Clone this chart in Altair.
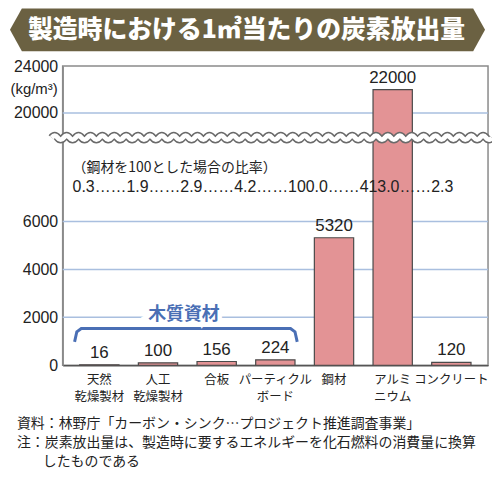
import altair as alt
import pandas as pd

# --- data ------------------------------------------------------------------
categories = ["天然\n乾燥製材", "人工\n乾燥製材", "合板", "パーティクル\nボード",
              "鋼材", "アルミ\nニウム", "コンクリート"]
emissions = [16, 100, 156, 224, 5320, 22000, 120]
ratios = ["0.3", "1.9", "2.9", "4.2", "100.0", "413.0", "2.3"]
tick_values = [0, 2000, 4000, 6000, 20000, 24000]
grid_values = [2000, 4000, 6000, 20000]

title_text = "製造時における1㎥当たりの炭素放出量"
unit_text = "(kg/m³)"
ratio_note = "（鋼材を100とした場合の比率）"
group_label = "木質資材"
notes = [
    "資料：林野庁「カーボン・シンク…プロジェクト推進調査事業」",
    "注：炭素放出量は、製造時に要するエネルギーを化石燃料の消費量に換算",
    "したものである",
]

# --- styling -----------------------------------------------------------------
W, H = 428, 301
BREAK_PX = 72
BAR = "#e39395"
BAR_EDGE = "#4a4a4a"
GRID = "#a9bfdf"
FRAME = "#8a8a8a"
BLUE = "#4a6fb5"
BANNER = "#6b6142"
INK = "#222222"
JP = "Noto Sans CJK JP"
LATIN = "Liberation Sans"

frame = pd.DataFrame({"category": categories, "value": emissions})
one = pd.DataFrame({"k": [0]})

# broken axis: 0-9500 in the lower part, 17900-24000 squeezed on top
y_scale = alt.Scale(domain=[0, 9500, 17900, 24000],
                    range=[H, BREAK_PX, BREAK_PX, 0], nice=False, zero=False)
x_enc = alt.X(
    "category:N",
    sort=categories,
    scale=alt.Scale(paddingInner=0.33, paddingOuter=0.29),
    axis=alt.Axis(
        title=None, labelAngle=0, ticks=False,
        labelExpr="split(datum.label, '\\n')",
        labelFont=JP, labelFontSize=12.5, labelLineHeight=18,
        labelColor=INK, labelPadding=8,
        domainColor="#555555", domainWidth=1.5,
    ),
)


def shape_path(points):
    return "M" + " L".join(f"{x},{y}" for x, y in points)


def wave_path(periods=37, amp=0.009):
    step = 1.0 / periods
    parts = [f"M-1,0 Q{-1 + step / 2:.4f},{-2 * amp:.4f} {-1 + step:.4f},0"]
    for i in range(2, periods * 2 + 1):
        parts.append(f"T{-1 + i * step:.4f},0")
    return " ".join(parts)


grid = (
    alt.Chart(pd.DataFrame({"g": grid_values}))
    .mark_rule(color=GRID, strokeWidth=1.5)
    .encode(y=alt.Y("g:Q", scale=y_scale))
)

bars = (
    alt.Chart(frame)
    .mark_bar(color=BAR, stroke=BAR_EDGE, strokeWidth=1.2)
    .encode(
        x=x_enc,
        y=alt.Y(
            "value:Q", scale=y_scale,
            axis=alt.Axis(
                title=None, values=tick_values, format="d", grid=False,
                ticks=False, labelFont=LATIN, labelFontSize=16,
                labelColor=INK, labelPadding=5, labelOverlap=False,
                domainColor=FRAME, domainWidth=1.5,
            ),
        ),
    )
)

value_labels = (
    alt.Chart(frame)
    .mark_text(baseline="bottom", dy=-3, font=LATIN, fontSize=17, color=INK)
    .encode(x=alt.X("category:N", sort=categories), y=alt.Y("value:Q", scale=y_scale),
            text=alt.Text("value:Q", format="d"))
)

wave_shape = wave_path()
wave_edge = (
    alt.Chart(one)
    .mark_point(shape=wave_shape, size=443 ** 2, filled=False, stroke="#6a6a6a",
                strokeWidth=8, opacity=1)
    .encode(x=alt.value(210.5), y=alt.value(BREAK_PX))
)
wave_fill = (
    alt.Chart(one)
    .mark_point(shape=wave_shape, size=443 ** 2, filled=False, stroke="white",
                strokeWidth=5, opacity=1)
    .encode(x=alt.value(210.5), y=alt.value(BREAK_PX))
)

ratio_head = (
    alt.Chart(one)
    .mark_text(align="left", font=JP, fontSize=14, color=INK)
    .encode(x=alt.value(10), y=alt.value(103), text=alt.value(ratio_note))
)
ratio_line = (
    alt.Chart(one)
    .mark_text(align="left", font=LATIN, fontSize=16, color=INK)
    .encode(x=alt.value(10), y=alt.value(122), text=alt.value("……".join(ratios)))
)

unit = (
    alt.Chart(one)
    .mark_text(align="right", font=LATIN, fontSize=15, color=INK)
    .encode(x=alt.value(-5), y=alt.value(23), text=alt.value(unit_text))
)

bracket = (
    alt.Chart(one)
    .mark_point(
        shape=shape_path([(-1, 0.12), (-0.98, 0.03), (-0.94, 0), (0.94, 0),
                          (0.98, 0.03), (1, 0.12)]),
        size=224 ** 2, filled=False, stroke=BLUE, strokeWidth=3, opacity=1,
    )
    .encode(x=alt.value(124), y=alt.value(264))
)
group_halo = (
    alt.Chart(one)
    .mark_text(font=JP, fontSize=18, fontWeight="bold", color="white",
               stroke="white", strokeWidth=9)
    .encode(x=alt.value(122), y=alt.value(250), text=alt.value(group_label))
)
group_text = (
    alt.Chart(one)
    .mark_text(font=JP, fontSize=18, fontWeight="bold", color=BLUE)
    .encode(x=alt.value(122), y=alt.value(250), text=alt.value(group_label))
)

banner = (
    alt.Chart(one)
    .mark_point(
        shape=shape_path([(-1, 0), (-0.95, -0.09), (0.95, -0.09), (1, 0),
                          (0.95, 0.09), (-0.95, 0.09)]) + " Z",
        size=478 ** 2, filled=True, color=BANNER, opacity=1,
    )
    .encode(x=alt.value(186), y=alt.value(-36.5))
)
banner_text = (
    alt.Chart(one)
    .mark_text(font=JP, fontSize=25, fontWeight=900, color="white")
    .encode(x=alt.value(185), y=alt.value(-36), text=alt.value(title_text))
)

note_layers = [
    alt.Chart(one)
    .mark_text(align="left", font=JP, fontSize=14, color=INK)
    .encode(x=alt.value(x), y=alt.value(y), text=alt.value(t))
    for t, x, y in zip(notes, [-46, -46, -20], [360, 379, 398])
]

chart = (
    alt.layer(grid, bars, value_labels, wave_edge, wave_fill, ratio_head,
              ratio_line, unit, bracket, group_halo, group_text, banner,
              banner_text, *note_layers)
    .properties(
        width=W, height=H,
        padding={"left": 55, "top": 57, "right": 4, "bottom": 106},
        autosize=alt.AutoSizeParams(type="none"),
        background="white",
    )
    .configure_view(stroke=FRAME, strokeWidth=1.5)
)

chart.save("out.html", embed_options={"renderer": "svg", "actions": False})
